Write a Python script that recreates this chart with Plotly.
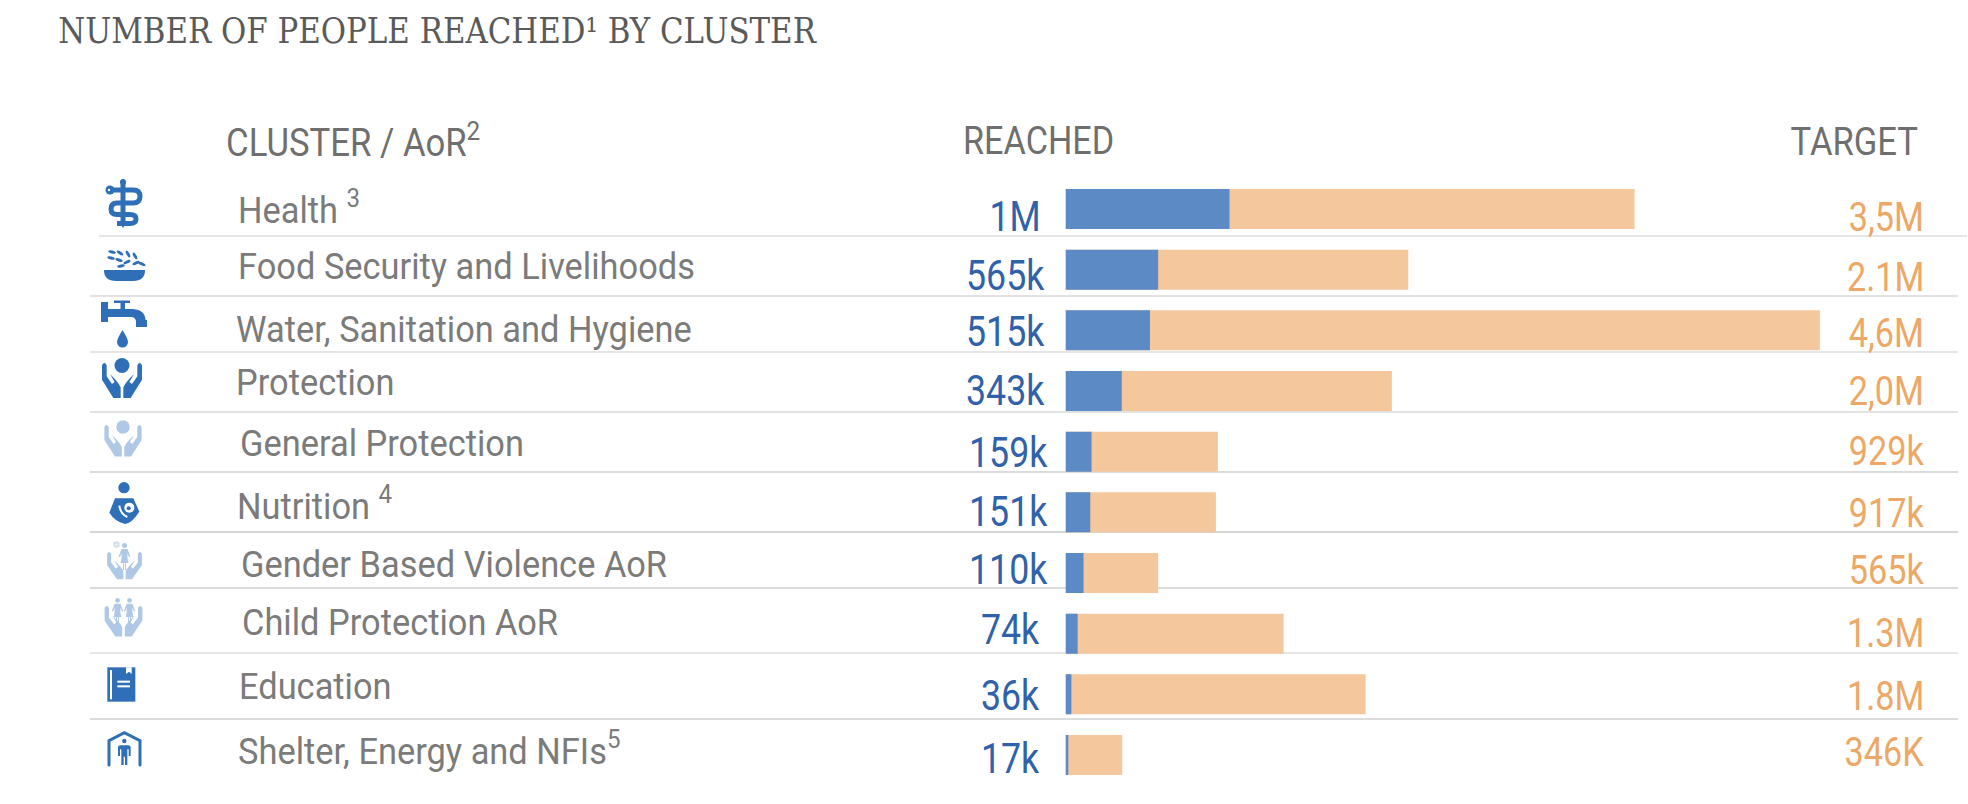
import json
import base64
import plotly.graph_objects as go

# ---- data ----
clusters = ["Health <sup>3</sup>", "Food Security and Livelihoods", "Water, Sanitation and Hygiene",
            "Protection", "General Protection", "Nutrition <sup>4</sup>", "Gender Based Violence AoR",
            "Child Protection AoR", "Education", "Shelter, Energy and NFIs<sup>5</sup>"]
reached = [1000000, 565000, 515000, 343000, 159000, 151000, 110000, 74000, 36000, 17000]
target = [3470000, 2090000, 4600000, 1990000, 929000, 917000, 565000, 1330000, 1830000, 346000]
reached_labels = ["1M", "565k", "515k", "343k", "159k", "151k", "110k", "74k", "36k", "17k"]
target_labels = ["3,5M", "2.1M", "4,6M", "2,0M", "929k", "917k", "565k", "1.3M", "1.8M", "346K"]

# ---- layout in page pixels ----
W, H = 1968, 804
BLUE_T, ORANGE_T, GREY, TITLE = "#2f62a8", "#eca866", "#7b7b7b", "#5a5a5a"
ROBOTO = "Roboto, sans-serif"
name_x = [236, 236, 234, 234, 238, 235, 239, 240, 237, 236]
name_y = [207, 266, 330, 382, 443, 503.5, 564, 622, 686, 748.5]
reached_x = [1043, 1047, 1047, 1047, 1050, 1050, 1050, 1041, 1041, 1041]
reached_y = [216, 275, 331, 390, 452, 511, 569, 629, 695, 758]
target_x = [1926] * 10
target_y = [217, 278, 333, 391, 451, 513, 570, 633, 696, 752]
rule_y = [236, 296, 352, 412, 472, 532, 588, 653, 719]
rule_c = ["#dedede", "#d9d9d9", "#dcdcdc", "#d9d9d9", "#cfcfcf", "#c8c8c8", "#cfcfcf", "#dcdcdc", "#d0d0d0"]

# ---- pictograms, page-pixel coordinates ----
ICON = "#2f6fb8"
LIGHT = "#aec8e6"

def hands(color, tx, ty, sx, sy):
    left = "M36,212 L36,255 L70,310 L92,310 L92,278 Q85,262 60,238 L74,262 L66,268 L50,245 L50,212 Q43,198 36,212 Z"
    return (f'<g transform="translate({tx},{ty}) scale({sx},{sy})" fill="{color}">'
            f'<path d="{left}" transform="translate(-96,-205)"/>'
            f'<path d="{left}" transform="scale(-1,1) translate(-96,-205)"/></g>')

def person(color, cx, top, k):
    return (f'<g transform="translate({cx},{top}) scale({k})" fill="{color}"><circle cx="0" cy="2.5" r="2.5"/>'
            '<path d="M-6,14 L-3,6 H3 L6,14 L4.5,14 L3,10 L3,15 L4,20 H1.5 V27 H0.5 V20 H-0.5 V27 H-1.5 V20 H-4 L-3,15 L-3,10 L-4.5,14 Z"/></g>')

grains = [(112, 252, 15), (120, 253, 35), (128, 254, 60), (135, 256, 60), (111, 258, 15), (119, 260, 20),
          (127, 262, -25), (136, 263, -25), (142, 264, 25), (121, 266, -10)]
svg = [f'<svg xmlns="http://www.w3.org/2000/svg" width="90" height="620" viewBox="80 170 90 620">']
# health
svg.append(f'<g fill="{ICON}"><circle cx="123" cy="182" r="3"/><rect x="120.5" y="182" width="5" height="43"/>'
           '<path d="M120.5,224 L123,228 L125.5,224 Z"/><circle cx="110" cy="190" r="4.5"/></g>'
           f'<path d="M110,190 H133 Q140,190 140,196.5 Q140,203 133,203 H117 Q111,203 111,209 Q111,214.5 117,214.5 H130 Q136,214.5 136,219 Q136,223.5 130,223.5 H117" '
           f'fill="none" stroke="{ICON}" stroke-width="5"/><circle cx="109" cy="190" r="1.2" fill="white"/>')
# food
for x, y, a in grains:
    svg.append(f'<ellipse cx="{x}" cy="{y}" rx="3.8" ry="1.5" transform="rotate({a} {x} {y})" fill="{ICON}"/>')
svg.append(f'<path d="M104,270 H145 Q145,281 133,281 H116 Q104,281 104,270 Z" fill="{ICON}"/>')
# water
svg.append(f'<g fill="{ICON}"><path d="M101,302 H108 V309 H120.5 V303 H114 V300.5 H130 V303 H125 V309 H133 Q145,310 145.5,320 H147 V327 H136 V321 Q135,317 131,317 H108 V322 H101 Z"/>'
           '<path d="M122.5,330 Q128,339 128,342 A5.5,5.5 0 1 1 117,342 Q117,339 122.5,330 Z"/></g>')
# protection
svg.append(f'<circle cx="122" cy="365.5" r="7.5" fill="{ICON}"/>' + hands(ICON, 122, 363, 1 / 3, 1 / 3))
# general protection
svg.append(f'<circle cx="123" cy="427" r="6.7" fill="{LIGHT}"/>' + hands(LIGHT, 123, 425, 0.31, 0.3))
# nutrition
svg.append(f'<g transform="translate(90,415) scale(0.3333)"><circle cx="102" cy="218" r="17" fill="{ICON}"/>'
           f'<path d="M75,250 H130 L148,290 Q125,325 105,327 Q75,320 58,293 Z" fill="{ICON}"/>'
           '<circle cx="118" cy="278" r="15" fill="white"/>'
           f'<circle cx="116" cy="280" r="6" fill="{ICON}"/>'
           '<path d="M88,272 Q92,298 112,306" fill="none" stroke="white" stroke-width="6"/></g>')
# gender based violence
svg.append(hands(LIGHT, 124.5, 552, 0.29, 0.26) + person(LIGHT, 124.5, 543, 1.0))
for a in range(0, 360, 45):
    svg.append(f'<rect x="115.5" y="541" width="0.9" height="2.6" fill="{LIGHT}" transform="rotate({a} 116.5 544.5)"/>')
# child protection
svg.append(hands(LIGHT, 123.5, 606, 0.315, 0.29) + person(LIGHT, 117.5, 598, 0.95) + person(LIGHT, 129.5, 598, 0.95))
# education
svg.append(f'<g transform="translate(90,660) scale(0.3333)"><rect x="52" y="22" width="84" height="103" fill="{ICON}"/>'
           '<rect x="60" y="30" width="6" height="88" fill="white"/>'
           '<path d="M108,22 H125 V42 L117,35 L108,42 Z" fill="white"/>'
           '<rect x="82" y="62" width="38" height="6" fill="white"/><rect x="82" y="76" width="38" height="6" fill="white"/></g>')
# shelter
svg.append(f'<g transform="translate(90,660) scale(0.3333)"><path d="M57,315 V242 L103,218 L150,242 V315" fill="none" stroke="{ICON}" stroke-width="9" stroke-linecap="round"/>'
           f'<circle cx="103" cy="243" r="6.5" fill="{ICON}"/>'
           f'<path d="M84,288 V262 Q84,256 92,256 H114 Q122,256 122,262 V288 H116 V268 H112 V315 H105 V290 H101 V315 H94 V268 H90 V288 Z" fill="{ICON}"/></g>')
svg.append("</svg>")
icon_src = "data:image/svg+xml;base64," + base64.b64encode("".join(svg).encode()).decode()

fig = go.Figure()
fig.add_bar(y=clusters, x=target, orientation="h", marker=dict(color="#f4c89c", line_width=0), width=0.66)
fig.add_bar(y=clusters, x=reached, orientation="h", marker=dict(color="#5b8ac4", line_width=0), width=0.66)

def px_x(x): return x / W
def px_y(y): return 1 - y / H

squeeze = []

def label(text, x, y, size, color, sx, anchor="left", family=ROBOTO):
    squeeze.append([round(sx, 3), anchor])
    fig.add_annotation(text=text, x=px_x(x), y=px_y(y), xref="paper", yref="paper", showarrow=False,
                       xanchor=anchor, yanchor="middle", font=dict(size=size, color=color, family=family))

label("NUMBER OF PEOPLE REACHED\u00b9 BY CLUSTER", 56, 31, 35, TITLE, 0.882, family="DejaVu Serif, serif")
label("CLUSTER / AoR<sup>2</sup>", 224, 140, 38, "#6f6f6f", 0.914)
label("REACHED", 961, 141, 38, "#6f6f6f", 0.90)
label("TARGET", 1920, 142, 38, "#6f6f6f", 0.91, anchor="right")
for i in range(10):
    label(clusters[i], name_x[i], name_y[i], 37, GREY, 0.93)
    label(reached_labels[i], reached_x[i], reached_y[i], 43, BLUE_T, 0.83, anchor="right")
    label(target_labels[i], target_x[i], target_y[i], 40, ORANGE_T, 0.855, anchor="right")

for i, (y, c) in enumerate(zip(rule_y, rule_c)):
    x0 = 99 if i == 0 else 90
    x1 = 1967 if i == 0 else 1958
    fig.add_shape(type="line", xref="paper", yref="paper", x0=px_x(x0), x1=px_x(x1), y0=px_y(y), y1=px_y(y),
                  line=dict(color=c, width=1.6), layer="below")

fig.add_layout_image(source=icon_src, xref="paper", yref="paper", x=px_x(80), y=px_y(170),
                     sizex=90 / W, sizey=620 / H, xanchor="left", yanchor="top", sizing="stretch", layer="above")

pitch = 60.67
fig.update_layout(
    width=W, height=H, margin=dict(l=0, r=0, t=0, b=0), barmode="overlay", showlegend=False,
    paper_bgcolor="white", plot_bgcolor="rgba(0,0,0,0)",
    xaxis=dict(domain=[1065.5 / W, 1], range=[0, (W - 1065.5) / 164 * 1e6], visible=False),
    yaxis=dict(domain=[px_y(755 + pitch / 2), px_y(209 - pitch / 2)], autorange="reversed", visible=False, type="category"),
)

# the reference's condensed faces are not installed: narrow each text about its own anchor
post = """
document.body.style.margin='0';document.body.style.overflow='hidden';
var sq=%s;
document.querySelectorAll('.annotation').forEach(function(g){
  var i=+g.getAttribute('data-index'), t=g.querySelector('text');
  if(!t||!sq[i])return;
  var b=t.getBBox(), a=sq[i][1]==='right'?b.x+b.width:b.x, s=sq[i][0];
  t.setAttribute('transform','translate('+a+',0) scale('+s+',1) translate('+(-a)+',0)');
});
""" % json.dumps(squeeze)
fig.write_html("out.html", config={"displayModeBar": False}, post_script=post)
